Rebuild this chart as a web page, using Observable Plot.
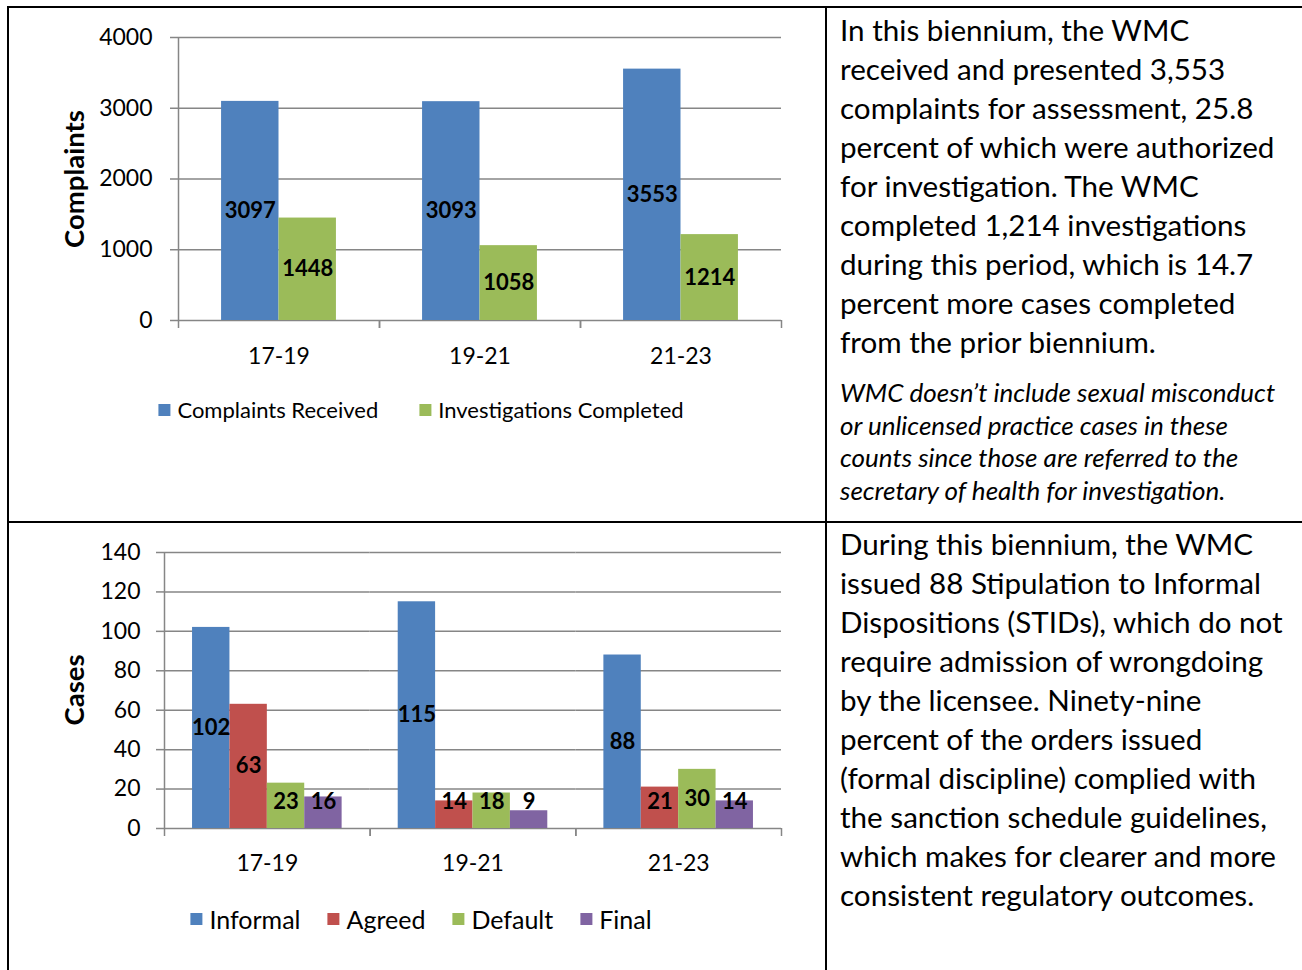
<!DOCTYPE html>
<html>
<head>
<meta charset="utf-8">
<script src="https://cdn.jsdelivr.net/npm/d3@7"></script>
<script src="https://cdn.jsdelivr.net/npm/@observablehq/plot@0.6"></script>
<style>
html, body { margin: 0; padding: 0; background: #fff; }
#page { position: relative; width: 1302px; height: 970px; overflow: hidden; font-family: Lato, sans-serif; color: #000; background: #fff; }
.bline { position: absolute; background: #000; }
.chart { position: absolute; }
.ytitle { position: absolute; font-weight: bold; font-size: 27.5px; transform: translate(-50%, -50%) rotate(-90deg); white-space: nowrap; }
.legend { position: absolute; display: flex; align-items: center; transform: translateX(-50%); line-height: 30px; white-space: nowrap; }
.legend .item { display: flex; align-items: center; }
.legend .sw { width: 12px; height: 12px; margin-right: 7px; }
.para { position: absolute; left: 840px; font-size: 29.6px; line-height: 39px; white-space: nowrap; }
.note { position: absolute; left: 840px; font-size: 26px; line-height: 32.7px; font-style: italic; white-space: nowrap; }
</style>
</head>
<body>
<div id="page"></div>
<script>
// ---------- data ----------
const periods = ["17-19", "19-21", "21-23"];

const complaintSeries = ["Complaints Received", "Investigations Completed"];
const complaintsReceived = [3097, 3093, 3553];
const investigationsCompleted = [1448, 1058, 1214];
const complaintColors = ["#4F81BD", "#9BBB59"];
const complaintTicks = [0, 1000, 2000, 3000, 4000];
const complaintTitle = "Complaints";

const caseSeries = ["Informal", "Agreed", "Default", "Final"];
const informalCases = [102, 115, 88];
const agreedCases = [63, 14, 21];
const defaultCases = [23, 18, 30];
const finalCases = [16, 9, 14];
const caseColors = ["#4F81BD", "#C0504D", "#9BBB59", "#8064A2"];
const caseTicks = [0, 20, 40, 60, 80, 100, 120, 140];
const caseTitle = "Cases";

const text1Lines = [
  "In this biennium, the WMC",
  "received and presented 3,553",
  "complaints for assessment, 25.8",
  "percent of which were authorized",
  "for investigation. The WMC",
  "completed 1,214 investigations",
  "during this period, which is 14.7",
  "percent more cases completed",
  "from the prior biennium."
];
const note1Lines = [
  "WMC doesn\u2019t include sexual misconduct",
  "or unlicensed practice cases in these",
  "counts since those are referred to the",
  "secretary of health for investigation."
];
const text2Lines = [
  "During this biennium, the WMC",
  "issued 88 Stipulation to Informal",
  "Dispositions (STIDs), which do not",
  "require admission of wrongdoing",
  "by the licensee. Ninety-nine",
  "percent of the orders issued",
  "(formal discipline) complied with",
  "the sanction schedule guidelines,",
  "which makes for clearer and more",
  "consistent regulatory outcomes."
];

// ---------- layout helpers ----------
const page = d3.select("#page");

function border(x, y, w, h) {
  page.append("div").attr("class", "bline")
    .style("left", x + "px").style("top", y + "px")
    .style("width", w + "px").style("height", h + "px");
}
border(7, 6, 1295, 2);      // top
border(7, 6, 2, 964);       // left
border(825, 6, 2, 964);     // middle vertical
border(7, 521, 1295, 2);    // middle horizontal

function textBlock(cls, top, lines) {
  const d = page.append("div").attr("class", cls).style("top", top + "px");
  lines.forEach(l => d.append("div").text(l));
}
textBlock("para", 10, text1Lines);
textBlock("note", 376, note1Lines);
textBlock("para", 524, text2Lines);

function groupedBars({left, top, width, height, margin, series, values, colors, ticks, yMax, tickPadding, fxPadding, labelMin}) {
  const rows = periods.flatMap((p, i) => series.map((s, j) => ({period: p, series: s, value: values[j][i]})));
  const outer = 0.75;
  const facetW = (width - margin.left - margin.right) / periods.length;
  const step = facetW / (series.length + 2 * outer);
  const edge = step * (outer + 0.5);
  const gray = "#868686";
  const chart = Plot.plot({
    width, height,
    marginLeft: margin.left, marginRight: margin.right, marginTop: margin.top, marginBottom: margin.bottom,
    style: {fontFamily: "Lato, sans-serif", fontSize: "23px", color: "#000", background: "transparent", overflow: "visible"},
    fx: {domain: periods, padding: 0, round: false},
    x: {domain: series, paddingInner: 0, paddingOuter: outer, round: false, axis: null},
    y: {domain: [0, yMax]},
    color: {domain: series, range: colors},
    marks: [
      Plot.gridY(ticks, {stroke: gray, strokeOpacity: 1, strokeWidth: 1.5}),
      Plot.axisY(ticks, {tickSize: 8, tickPadding, tickFormat: d => String(d), stroke: gray, strokeWidth: 1.5, strokeOpacity: 1, label: null, fontSize: 23, fill: "#000"}),
      Plot.ruleX([{period: periods[0], series: series[0]}], {fx: "period", x: "series", dx: -edge, y1: 0, y2: yMax, stroke: gray, strokeWidth: 1.5}),
      Plot.axisFx({anchor: "bottom", tickSize: 8, dx: -facetW / 2, tickFormat: () => "", stroke: gray, strokeWidth: 1.5, strokeOpacity: 1, label: null}),
      Plot.axisFx([periods[periods.length - 1]], {anchor: "bottom", tickSize: 8, dx: facetW / 2, tickFormat: () => "", stroke: gray, strokeWidth: 1.5, strokeOpacity: 1, label: null}),
      Plot.axisFx({anchor: "bottom", tickSize: 0, tickPadding: fxPadding, label: null, fontSize: 23, fill: "#000"}),
      Plot.barY(rows, {fx: "period", x: "series", y: "value", fill: "series"}),
      Plot.text(rows, {fx: "period", x: "series", y: d => Math.max(d.value / 2, labelMin), text: d => String(d.value), fontWeight: "bold", fontSize: 22, fill: "#000"})
    ]
  });
  const holder = page.append("div").attr("class", "chart").style("left", left + "px").style("top", top + "px");
  holder.node().appendChild(chart);
}

function legend(cx, top, series, colors, gap, size) {
  const lg = page.append("div").attr("class", "legend")
    .style("left", cx + "px").style("top", top + "px").style("gap", gap + "px")
    .style("font-size", size + "px");
  series.forEach((s, i) => {
    const it = lg.append("div").attr("class", "item");
    it.append("div").attr("class", "sw").style("background", colors[i]);
    it.append("span").text(s);
  });
}

function yTitle(cx, cy, label) {
  page.append("div").attr("class", "ytitle")
    .style("left", cx + "px").style("top", cy + "px").text(label);
}

// Chart 1
groupedBars({
  left: 10, top: 10, width: 800, height: 370,
  margin: {left: 168, right: 29, top: 27, bottom: 60},
  series: complaintSeries,
  values: [complaintsReceived, investigationsCompleted],
  colors: complaintColors, ticks: complaintTicks, yMax: 4000,
  tickPadding: 18, fxPadding: 27, labelMin: 0
});
yTitle(73, 179, complaintTitle);
legend(421, 395, complaintSeries, complaintColors, 41, 22);

// Chart 2
groupedBars({
  left: 10, top: 530, width: 800, height: 360,
  margin: {left: 154, right: 29, top: 22, bottom: 62},
  series: caseSeries,
  values: [informalCases, agreedCases, defaultCases, finalCases],
  colors: caseColors, ticks: caseTicks, yMax: 140,
  tickPadding: 16, fxPadding: 26, labelMin: 13.5
});
yTitle(73, 690, caseTitle);
legend(421, 904, caseSeries, caseColors, 27, 25);
</script>
</body>
</html>
